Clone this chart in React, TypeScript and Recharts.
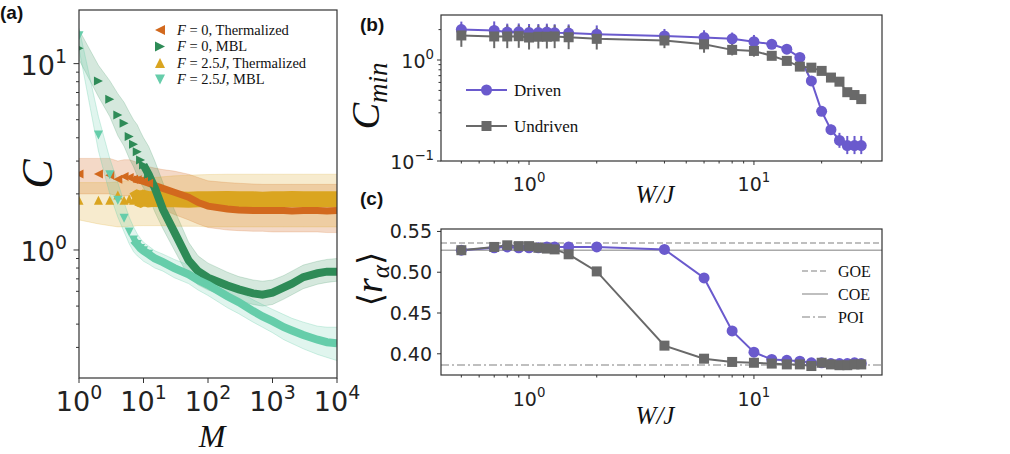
import React from "react";
import {
  ComposedChart,
  LineChart,
  Line,
  Area,
  XAxis,
  YAxis,
  ErrorBar,
  ReferenceLine,
} from "recharts";

// ---- panel (a): C vs M ----
const M = [1, 2, 3, 4, 5, 6, 7, 8, 9, 10, 12, 15, 20, 30, 50, 70, 100, 200, 300, 500, 700, 1000, 1500, 2000, 3000, 5000, 7000, 10000];

const f0Therm = [2.56, 2.56, 2.52, 2.4, 2.48, 2.45, 2.4, 2.38, 2.36, 2.33, 2.28, 2.22, 2.14, 2.04, 1.92, 1.8, 1.72, 1.66, 1.64, 1.63, 1.63, 1.63, 1.63, 1.62, 1.63, 1.63, 1.62, 1.63];
const f0ThermLo = [2.0, 2.0, 2.0, 1.95, 1.95, 1.95, 1.9, 1.9, 1.85, 1.85, 1.8, 1.75, 1.65, 1.55, 1.45, 1.38, 1.32, 1.28, 1.27, 1.26, 1.26, 1.25, 1.25, 1.25, 1.25, 1.25, 1.24, 1.24];
const f0ThermHi = [3.1, 3.1, 3.1, 3.0, 3.05, 3.05, 3.0, 2.95, 2.9, 2.85, 2.8, 2.75, 2.7, 2.65, 2.55, 2.45, 2.35, 2.3, 2.28, 2.26, 2.25, 2.25, 2.25, 2.25, 2.25, 2.25, 2.25, 2.25];

const f0Mbl = [12.1, 8.07, 6.44, 5.3, 4.79, 4.06, 3.69, 3.37, 3.04, 2.86, 2.55, 2.15, 1.65, 1.25, 0.88, 0.77, 0.71, 0.645, 0.615, 0.585, 0.575, 0.59, 0.63, 0.66, 0.715, 0.75, 0.765, 0.765];
const f0MblLo = [10.5, 6.65, 5.2, 4.1, 3.6, 3.1, 2.8, 2.5, 2.3, 2.15, 1.93, 1.6, 1.3, 1.0, 0.72, 0.65, 0.61, 0.56, 0.535, 0.51, 0.5, 0.51, 0.545, 0.575, 0.62, 0.655, 0.67, 0.68];
const f0MblHi = [15.2, 9.8, 8.1, 6.9, 6.2, 5.5, 5.0, 4.7, 4.3, 4.0, 3.6, 3.0, 2.3, 1.65, 1.1, 0.93, 0.85, 0.76, 0.72, 0.69, 0.68, 0.69, 0.73, 0.77, 0.83, 0.87, 0.89, 0.9];

const f25Therm = [1.85, 1.85, 1.85, 1.97, 1.85, 1.88, 1.85, 1.9, 1.87, 1.9, 1.87, 1.88, 1.87, 1.87, 1.86, 1.87, 1.87, 1.88, 1.87, 1.87, 1.86, 1.87, 1.87, 1.88, 1.87, 1.87, 1.87, 1.87];
const f25ThermLo = [1.45, 1.38, 1.35, 1.33, 1.33, 1.34, 1.34, 1.35, 1.35, 1.35, 1.35, 1.35, 1.35, 1.34, 1.34, 1.34, 1.33, 1.33, 1.33, 1.33, 1.33, 1.33, 1.33, 1.33, 1.33, 1.33, 1.33, 1.33];
const f25ThermHi = [2.3, 2.3, 2.3, 2.32, 2.35, 2.35, 2.37, 2.38, 2.4, 2.4, 2.42, 2.45, 2.47, 2.5, 2.52, 2.53, 2.54, 2.55, 2.55, 2.55, 2.55, 2.55, 2.55, 2.55, 2.55, 2.55, 2.55, 2.55];

const f25Mbl = [14.1, 4.14, 2.53, 1.85, 1.48, 1.25, 1.13, 1.07, 1.02, 0.99, 0.95, 0.9, 0.86, 0.8, 0.74, 0.69, 0.65, 0.565, 0.525, 0.47, 0.44, 0.415, 0.385, 0.37, 0.35, 0.33, 0.32, 0.316];
const f25MblLo = [12.0, 3.4, 2.0, 1.5, 1.25, 1.08, 0.98, 0.93, 0.9, 0.87, 0.84, 0.8, 0.77, 0.71, 0.66, 0.61, 0.57, 0.49, 0.455, 0.41, 0.385, 0.36, 0.33, 0.315, 0.295, 0.275, 0.265, 0.255];
const f25MblHi = [15.5, 5.2, 3.1, 2.3, 1.8, 1.5, 1.33, 1.22, 1.15, 1.1, 1.05, 0.99, 0.95, 0.89, 0.83, 0.78, 0.74, 0.65, 0.6, 0.54, 0.51, 0.48, 0.45, 0.43, 0.41, 0.39, 0.385, 0.385];

// ---- panels (b), (c): vs W/J ----
const W = [0.5, 0.7, 0.8, 0.9, 1.0, 1.1, 1.2, 1.3, 1.5, 2, 4, 6, 8, 10, 12, 14, 16, 18, 20, 22, 24, 26, 28, 30];

const drivenC = [2.0, 1.96, 1.89, 1.9, 1.87, 1.87, 1.89, 1.86, 1.85, 1.8, 1.73, 1.67, 1.62, 1.52, 1.43, 1.28, 1.06, 0.62, 0.31, 0.204, 0.16, 0.142, 0.142, 0.142];
const drivenErrLo = [0.3, 0.3, 0.3, 0.3, 0.3, 0.3, 0.3, 0.3, 0.3, 0.3, 0.25, 0.25, 0.2, 0.2, 0.12, 0.12, 0.08, 0.04, 0.02, 0.02, 0.025, 0.025, 0.025, 0.025];
const drivenErrHi = [0.4, 0.45, 0.4, 0.4, 0.4, 0.4, 0.4, 0.4, 0.4, 0.4, 0.3, 0.3, 0.25, 0.25, 0.15, 0.15, 0.1, 0.05, 0.03, 0.025, 0.03, 0.035, 0.035, 0.035];
const undrivenC = [1.75, 1.71, 1.71, 1.72, 1.67, 1.7, 1.7, 1.71, 1.68, 1.62, 1.56, 1.43, 1.26, 1.23, 1.1, 0.98, 0.86, 0.84, 0.78, 0.67, 0.61, 0.48, 0.45, 0.41];
const undrivenErrLo = [0.4, 0.4, 0.4, 0.4, 0.4, 0.4, 0.4, 0.4, 0.4, 0.35, 0.25, 0.25, 0.15, 0.15, 0.08, 0.08, 0.08, 0.04, 0.04, 0.03, 0.03, 0.03, 0.03, 0.03];
const undrivenErrHi = [0.5, 0.5, 0.5, 0.5, 0.5, 0.5, 0.5, 0.5, 0.5, 0.45, 0.3, 0.3, 0.2, 0.2, 0.1, 0.1, 0.1, 0.05, 0.05, 0.04, 0.04, 0.04, 0.04, 0.04];

const drivenR = [0.527, 0.53, 0.531, 0.53, 0.53, 0.53, 0.531, 0.531, 0.531, 0.531, 0.528, 0.493, 0.428, 0.402, 0.393, 0.392, 0.391, 0.389, 0.389, 0.388, 0.388, 0.388, 0.389, 0.388];
const undrivenR = [0.527, 0.531, 0.533, 0.532, 0.532, 0.53, 0.529, 0.528, 0.522, 0.501, 0.41, 0.394, 0.39, 0.389, 0.388, 0.387, 0.387, 0.385, 0.389, 0.387, 0.386, 0.386, 0.387, 0.387];

const GOE = 0.5359;
const COE = 0.5269;
const POI = 0.3863;

const yTicksA = [0.3, 0.4, 0.5, 0.6, 0.7, 0.8, 0.9, 1, 2, 3, 4, 5, 6, 7, 8, 9, 10];
const xTicksA = [1, 10, 100, 1000, 10000];
const xTicksW = [0.5, 0.6, 0.7, 0.8, 0.9, 1, 2, 3, 4, 5, 6, 7, 8, 9, 10, 20, 30];
const yTicksB = [0.1, 0.2, 0.3, 0.4, 0.5, 0.6, 0.7, 0.8, 0.9, 1, 2];
const yTicksC = [0.4, 0.45, 0.5, 0.55];

const C_ORANGE = "#d2691e";
const C_GREEN = "#2e8b57";
const C_GOLD = "#daa520";
const C_TEAL = "#66cdaa";
const C_DRIVEN = "#6a5acd";
const C_UNDRIVEN = "#696969";
const AX = "#333";
const SANS = "DejaVu Sans";
const SERIF = "Liberation Serif";

const rowsA = M.map((m, i) => ({
  M: m,
  orBand: [f0ThermLo[i], f0ThermHi[i]],
  grBand: [f0MblLo[i], f0MblHi[i]],
  goBand: [f25ThermLo[i], f25ThermHi[i]],
  teBand: [f25MblLo[i], f25MblHi[i]],
  orLine: m >= 7 ? f0Therm[i] : null,
  grLine: m >= 10 ? f0Mbl[i] : null,
  goLine: m >= 7 ? f25Therm[i] : null,
  teLine: m >= 7 ? f25Mbl[i] : null,
  orMk: m <= 12 ? f0Therm[i] : null,
  grMk: m <= 12 ? f0Mbl[i] : null,
  goMk: m <= 12 ? f25Therm[i] : null,
  teMk: m <= 12 ? f25Mbl[i] : null,
}));

const rowsW = W.map((w, i) => ({
  W: w,
  dC: drivenC[i],
  dErr: [drivenErrLo[i], drivenErrHi[i]],
  uC: undrivenC[i],
  uErr: [undrivenErrLo[i], undrivenErrHi[i]],
  dR: drivenR[i],
  uR: undrivenR[i],
}));

function isPow10(v: number) {
  const l = Math.log10(v);
  return Math.abs(l - Math.round(l)) < 1e-6;
}
function expLabel(v: number) {
  const e = Math.round(Math.log10(v));
  return e < 0 ? `\u2212${-e}` : `${e}`;
}

function logXTick(fs: number, major: number, minor: number, gap: number) {
  return (p: any) => {
    const { x, y, payload } = p;
    const v = payload.value;
    const mj = isPow10(v);
    return (
      <g>
        <line x1={x} x2={x} y1={y} y2={y + (mj ? major : minor)} stroke={AX} strokeWidth={1} />
        {mj && (
          <text x={x} y={y + gap} textAnchor="middle" fontFamily={SANS} fontSize={fs} fill="#222">
            10
            <tspan fontSize={fs * 0.7} dy={-fs * 0.45}>
              {expLabel(v)}
            </tspan>
          </text>
        )}
      </g>
    );
  };
}

function logYTick(fs: number, major: number, minor: number, gap: number) {
  return (p: any) => {
    const { x, y, payload } = p;
    const v = payload.value;
    const mj = isPow10(v);
    return (
      <g>
        <line x1={x - (mj ? major : minor)} x2={x} y1={y} y2={y} stroke={AX} strokeWidth={1} />
        {mj && (
          <text x={x - gap} y={y + fs * 0.42} textAnchor="end" fontFamily={SANS} fontSize={fs} fill="#222">
            10
            <tspan fontSize={fs * 0.7} dy={-fs * 0.45}>
              {expLabel(v)}
            </tspan>
          </text>
        )}
      </g>
    );
  };
}

function linYTick(fs: number, len: number, gap: number) {
  return (p: any) => {
    const { x, y, payload } = p;
    return (
      <g>
        <line x1={x - len} x2={x} y1={y} y2={y} stroke={AX} strokeWidth={1} />
        <text x={x - gap} y={y + fs * 0.36} textAnchor="end" fontFamily={SANS} fontSize={fs} fill="#222">
          {payload.value.toFixed(2)}
        </text>
      </g>
    );
  };
}

function triPath(dir: string, cx: number, cy: number, s: number) {
  if (dir === "left") return `M${cx - s},${cy} L${cx + s},${cy - s} L${cx + s},${cy + s}Z`;
  if (dir === "right") return `M${cx + s},${cy} L${cx - s},${cy - s} L${cx - s},${cy + s}Z`;
  if (dir === "up") return `M${cx},${cy - s} L${cx + s},${cy + s} L${cx - s},${cy + s}Z`;
  return `M${cx},${cy + s} L${cx + s},${cy - s} L${cx - s},${cy - s}Z`;
}

function triDot(dir: string, color: string) {
  return (p: any) => {
    const { cx, cy, value, index } = p;
    if (cx == null || cy == null || value == null) return <g key={`e${index}`} />;
    return <path key={`t${index}`} d={triPath(dir, cx, cy, 4.5)} fill={color} />;
  };
}

function squareDot(color: string) {
  return (p: any) => {
    const { cx, cy, index } = p;
    if (cx == null || cy == null) return <g key={`e${index}`} />;
    return <rect key={`s${index}`} x={cx - 5} y={cy - 5} width={10} height={10} fill={color} />;
  };
}

function PanelA() {
  return (
    <ComposedChart width={360} height={454} data={rowsA} margin={{ top: 10, right: 23, bottom: 0, left: 0 }}>
      <XAxis
        dataKey="M"
        type="number"
        scale="log"
        domain={[1, 10000]}
        ticks={xTicksA}
        interval={0}
        allowDataOverflow
        axisLine={false}
        tickLine={false}
        tickSize={0}
        tickMargin={0}
        height={76}
        tick={logXTick(27, 5, 3, 33)}
      />
      <YAxis
        type="number"
        scale="log"
        domain={[0.2056, 19.4]}
        ticks={yTicksA}
        interval={0}
        allowDataOverflow
        axisLine={false}
        tickLine={false}
        tickSize={0}
        tickMargin={0}
        width={79}
        tick={logYTick(27, 5.5, 3, 12)}
      />
      <Area dataKey="orBand" fill={C_ORANGE} fillOpacity={0.25} stroke={C_ORANGE} strokeOpacity={0.2} isAnimationActive={false} />
      <Area dataKey="grBand" fill={C_GREEN} fillOpacity={0.2} stroke={C_GREEN} strokeOpacity={0.2} isAnimationActive={false} />
      <Area dataKey="goBand" fill={C_GOLD} fillOpacity={0.22} stroke={C_GOLD} strokeOpacity={0.2} isAnimationActive={false} />
      <Area dataKey="teBand" fill={C_TEAL} fillOpacity={0.2} stroke={C_TEAL} strokeOpacity={0.3} isAnimationActive={false} />
      <Line dataKey="goLine" stroke={C_GOLD} strokeWidth={16} dot={false} isAnimationActive={false} />
      <Line dataKey="orLine" stroke={C_ORANGE} strokeWidth={7} dot={false} isAnimationActive={false} />
      <Line dataKey="grLine" stroke={C_GREEN} strokeWidth={8} dot={false} isAnimationActive={false} />
      <Line dataKey="teLine" stroke={C_TEAL} strokeWidth={8} dot={false} isAnimationActive={false} />
      <Line dataKey="orMk" stroke="none" dot={triDot("left", C_ORANGE)} isAnimationActive={false} />
      <Line dataKey="goMk" stroke="none" dot={triDot("up", C_GOLD)} isAnimationActive={false} />
      <Line dataKey="grMk" stroke="none" dot={triDot("right", C_GREEN)} isAnimationActive={false} />
      <Line dataKey="teMk" stroke="none" dot={triDot("down", C_TEAL)} isAnimationActive={false} />
    </ComposedChart>
  );
}

function PanelB() {
  return (
    <LineChart width={650} height={200} data={rowsW} margin={{ top: 15, right: 128, bottom: 0, left: 0 }}>
      <XAxis
        dataKey="W"
        type="number"
        scale="log"
        domain={[0.406, 37.1]}
        ticks={xTicksW}
        interval={0}
        allowDataOverflow
        axisLine={false}
        tickLine={false}
        tickSize={0}
        tickMargin={0}
        height={39}
        tick={logXTick(19, 4, 2.5, 30)}
      />
      <YAxis
        type="number"
        scale="log"
        domain={[0.1, 2.79]}
        ticks={yTicksB}
        interval={0}
        allowDataOverflow
        axisLine={false}
        tickLine={false}
        tickSize={0}
        tickMargin={0}
        width={81}
        tick={logYTick(19, 4, 2.5, 7)}
      />
      <Line dataKey="dC" stroke={C_DRIVEN} strokeWidth={2} dot={{ r: 5.5, fill: C_DRIVEN, stroke: C_DRIVEN, strokeWidth: 0 }} isAnimationActive={false}>
        <ErrorBar dataKey="dErr" width={0} stroke={C_DRIVEN} strokeWidth={2} />
      </Line>
      <Line dataKey="uC" stroke={C_UNDRIVEN} strokeWidth={2} dot={squareDot(C_UNDRIVEN)} isAnimationActive={false}>
        <ErrorBar dataKey="uErr" width={0} stroke={C_UNDRIVEN} strokeWidth={2} />
      </Line>
    </LineChart>
  );
}

function PanelC() {
  return (
    <LineChart width={650} height={264} data={rowsW} margin={{ top: 39, right: 128, bottom: 0, left: 0 }}>
      <XAxis
        dataKey="W"
        type="number"
        scale="log"
        domain={[0.406, 37.1]}
        ticks={xTicksW}
        interval={0}
        allowDataOverflow
        axisLine={false}
        tickLine={false}
        tickSize={0}
        tickMargin={0}
        height={79}
        tick={logXTick(19, 4, 2.5, 31)}
      />
      <YAxis
        type="number"
        domain={[0.374, 0.553]}
        ticks={yTicksC}
        interval={0}
        allowDataOverflow
        axisLine={false}
        tickLine={false}
        tickSize={0}
        tickMargin={0}
        width={81}
        tick={linYTick(19, 4, 9)}
      />
      <ReferenceLine y={GOE} stroke="#aaa" strokeWidth={1.5} strokeDasharray="6 3" />
      <ReferenceLine y={COE} stroke="#aaa" strokeWidth={1.5} />
      <ReferenceLine y={POI} stroke="#aaa" strokeWidth={1.5} strokeDasharray="8 3 2 3" />
      <Line dataKey="dR" stroke={C_DRIVEN} strokeWidth={2} dot={{ r: 5.5, fill: C_DRIVEN, stroke: C_DRIVEN, strokeWidth: 0 }} isAnimationActive={false} />
      <Line dataKey="uR" stroke={C_UNDRIVEN} strokeWidth={2} dot={squareDot(C_UNDRIVEN)} isAnimationActive={false} />
    </LineChart>
  );
}

function LegendRowA({ y, dir, color, f, label }: { y: number; dir: string; color: string; f: string; label: string }) {
  return (
    <g>
      <path d={triPath(dir, 160, y, 5)} fill={color} />
      <text x={177} y={y + 4.5} fontFamily={SERIF} fontSize={14.5} fill="#111">
        <tspan fontStyle="italic">F</tspan>{" = "}{f === "0" ? "0" : "2.5"}
        {f === "0" ? null : <tspan fontStyle="italic">J</tspan>}, {label}
      </text>
    </g>
  );
}

function Overlay() {
  return (
    <svg width={1010} height={454} style={{ position: "absolute", left: 0, top: 0, pointerEvents: "none" }}>
      <rect x={79} y={10} width={258} height={368} fill="none" stroke={AX} strokeWidth={1.2} />
      <rect x={441} y={15} width={441} height={146} fill="none" stroke={AX} strokeWidth={1.2} />
      <rect x={441} y={229} width={441} height={146} fill="none" stroke={AX} strokeWidth={1.2} />

      <text x={0} y={19} fontFamily="Liberation Sans" fontWeight="bold" fontSize={19} fill="#111">(a)</text>
      <text x={360} y={31} fontFamily="Liberation Sans" fontWeight="bold" fontSize={19} fill="#111">(b)</text>
      <text x={360} y={205} fontFamily="Liberation Sans" fontWeight="bold" fontSize={19} fill="#111">(c)</text>

      {/* axis titles */}
      <text transform="translate(52,174) rotate(-90)" textAnchor="middle" fontFamily={SERIF} fontStyle="italic" fontSize={44} fill="#111">C</text>
      <text x={212} y={447} textAnchor="middle" fontFamily={SERIF} fontStyle="italic" fontSize={32} fill="#111">M</text>
      <text transform="translate(379,96) rotate(-90)" textAnchor="middle" fontFamily={SERIF} fontStyle="italic" fontSize={40} fill="#111">
        C<tspan fontSize={27} dy={8}>min</tspan>
      </text>
      <text transform="translate(382,279) rotate(-90)" textAnchor="middle" fontFamily="DejaVu Serif" fontSize={34} fill="#111">
        {"\u27e8"}
        <tspan fontFamily={SERIF} fontStyle="italic" fontSize={38}>r</tspan>
        <tspan fontFamily={SERIF} fontStyle="italic" fontSize={25} dy={7}>{"\u03b1"}</tspan>
        <tspan dy={-7}>{"\u27e9"}</tspan>
      </text>
      <text x={655} y={203} textAnchor="middle" fontFamily={SERIF} fontStyle="italic" fontSize={25} fill="#111">W/J</text>
      <text x={655} y={424} textAnchor="middle" fontFamily={SERIF} fontStyle="italic" fontSize={25} fill="#111">W/J</text>

      {/* legend (a) */}
      <LegendRowA y={30} dir="left" color={C_ORANGE} f="0" label="Thermalized" />
      <LegendRowA y={46.5} dir="right" color={C_GREEN} f="0" label="MBL" />
      <LegendRowA y={63} dir="up" color={C_GOLD} f="2.5" label="Thermalized" />
      <LegendRowA y={79.5} dir="down" color={C_TEAL} f="2.5" label="MBL" />

      {/* legend (b) */}
      <line x1={466} x2={507} y1={90} y2={90} stroke={C_DRIVEN} strokeWidth={2} />
      <circle cx={486.5} cy={90} r={5.5} fill={C_DRIVEN} />
      <text x={514} y={96} fontFamily={SERIF} fontSize={17} fill="#111">Driven</text>
      <line x1={466} x2={507} y1={126} y2={126} stroke={C_UNDRIVEN} strokeWidth={2} />
      <rect x={481.5} y={121} width={10} height={10} fill={C_UNDRIVEN} />
      <text x={514} y={132} fontFamily={SERIF} fontSize={17} fill="#111">Undriven</text>

      {/* legend (c) */}
      <line x1={802} x2={828} y1={271} y2={271} stroke="#aaa" strokeWidth={1.5} strokeDasharray="6 3" />
      <text x={838} y={277} fontFamily={SERIF} fontSize={16} fill="#111">GOE</text>
      <line x1={802} x2={828} y1={294} y2={294} stroke="#aaa" strokeWidth={1.5} />
      <text x={838} y={300} fontFamily={SERIF} fontSize={16} fill="#111">COE</text>
      <line x1={802} x2={828} y1={317} y2={317} stroke="#aaa" strokeWidth={1.5} strokeDasharray="8 3 2 3" />
      <text x={838} y={323} fontFamily={SERIF} fontSize={16} fill="#111">POI</text>
    </svg>
  );
}

export default function App() {
  return (
    <div style={{ position: "absolute", left: 0, top: 0, width: 1010, height: 454, background: "#fff", overflow: "hidden" }}>
      <div style={{ position: "absolute", left: 0, top: 0 }}>
        <PanelA />
      </div>
      <div style={{ position: "absolute", left: 360, top: 0 }}>
        <PanelB />
      </div>
      <div style={{ position: "absolute", left: 360, top: 190 }}>
        <PanelC />
      </div>
      <Overlay />
    </div>
  );
}
